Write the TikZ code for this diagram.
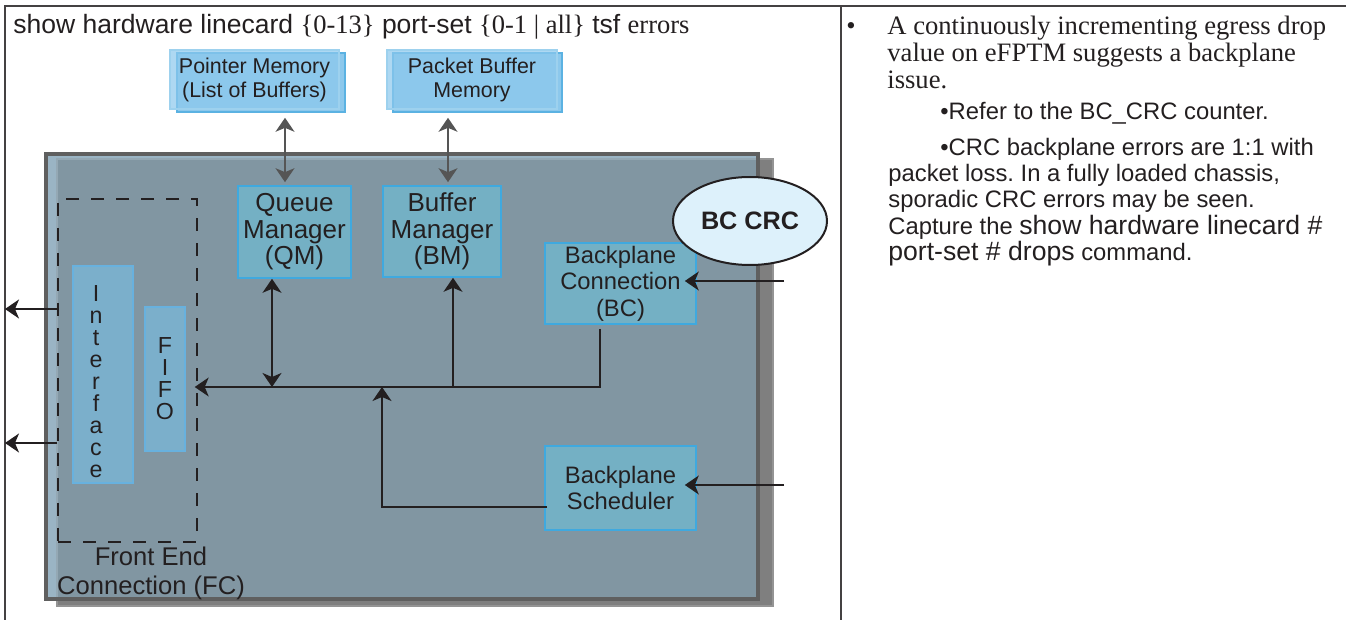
\documentclass[tikz,border=0pt]{standalone}
\usepackage{fontspec}
\setmainfont{Liberation Serif}
\setsansfont{Liberation Sans}
\usetikzlibrary{positioning,calc,shapes.geometric,arrows.meta}

\definecolor{ink}{HTML}{231F20}
\definecolor{garrow}{HTML}{555555}
\definecolor{cardback}{HTML}{9AB4C4}
\definecolor{cardfill}{HTML}{8196A2}
\definecolor{cardline}{HTML}{94A8B4}
\definecolor{cardedge}{HTML}{5F5F5F}
\definecolor{cardshade}{HTML}{7F7F7F}
\definecolor{memfill}{HTML}{8CC8EC}
\definecolor{memedge}{HTML}{5BB2E2}
\definecolor{blkfill}{HTML}{74B0C4}
\definecolor{blkedge}{HTML}{3FA9DF}
\definecolor{iffill}{HTML}{7BAFCB}
\definecolor{ifedge}{HTML}{68B1DE}
\definecolor{crcfill}{HTML}{DDF1FB}

\frenchspacing

\begin{document}
\begin{tikzpicture}[
    x=0.5pt, y=-0.5pt,
    font=\sffamily, text=ink,
    mem/.style={draw=memedge, fill=memfill, line width=0.8pt,
                minimum height=29.5pt, inner sep=0pt, align=center,
                font=\sffamily\fontsize{10.7}{12}\selectfont},
    blk/.style={draw=blkedge, fill=blkfill, line width=0.8pt, inner sep=0pt,
                align=center},
    big/.style={font=\sffamily\fontsize{13}{13.25}\selectfont},
    mid/.style={font=\sffamily\fontsize{11.9}{13.25}\selectfont},
    ifc/.style={draw=ifedge, fill=iffill, line width=0.8pt, inner sep=0pt},
    letters/.style={align=center, inner sep=0pt,
                    font=\sffamily\fontsize{11.6}{11}\selectfont},
    note/.style={inner sep=0pt, align=left},
    arr/.style={draw=ink, line width=0.75pt,
                -{Stealth[length=7pt,width=9.5pt,inset=2pt]}},
    darr/.style={arr, {Stealth[length=7pt,width=9.5pt,inset=2pt]}-{Stealth[length=7pt,width=9.5pt,inset=2pt]}},
    gar/.style={darr, draw=garrow},
  ]
  \useasboundingbox (0,0) rectangle (1346,620);

  % ---------------------------------------------------------------
  % Table frame and command line
  % ---------------------------------------------------------------
  \coordinate (frameL) at (5,6);
  \draw[ink!85, line width=0.8pt] (5,620) -- (frameL) -- (1346,6);
  \draw[ink!85, line width=0.8pt] (841,6) -- (841,620);

  \node[anchor=base west, inner sep=0pt,
        font=\sffamily\fontsize{13.25}{15}\selectfont] (cmd) at (13,33.5)
    {show hardware linecard {\rmfamily\{0-13\}} port-set
     {\rmfamily\{0-1 | all\}} tsf {\rmfamily errors}};

  % ---------------------------------------------------------------
  % Memories above the card
  % ---------------------------------------------------------------
  \node[mem, minimum width=84pt] (PMc) at (261,82.5) {};
  \node[mem, draw=memedge!60, fill opacity=0.7, text opacity=1,
        minimum width=84.5pt] (PM) at (254.5,79.5)
    {Pointer Memory\\(List of Buffers)};
  \node[mem, minimum width=84.5pt] (PBc) at (477.5,82.5) {};
  \node[mem, draw=memedge!60, fill opacity=0.7, text opacity=1,
        minimum width=85pt] (PB) at (472,79.5)
    {Packet Buffer\\Memory};

  % ---------------------------------------------------------------
  % Line card with its shadow
  % ---------------------------------------------------------------
  \filldraw[fill=cardshade, draw=black!42, line width=0.6pt]
    (57,159) rectangle (773,606);
  \fill[cardback] (45.5,154.5) rectangle (758,599);
  \filldraw[fill=cardfill, draw=cardline, line width=0.6pt]
    (57,159) rectangle (758,599);
  \draw[cardedge, line width=2pt] (45.5,154.5) rectangle (758,599);

  % front end connection
  \node[draw=ink, line width=0.7pt, dash pattern=on 6.5pt off 6pt,
        minimum width=69.5pt, minimum height=171.5pt, inner sep=0pt]
    (FC) at (127.5,370.5) {};
  \node[align=center, inner sep=0pt,
        font=\sffamily\fontsize{12.8}{14.5}\selectfont] (FClab) at (151,573)
    {Front End\\Connection (FC)};
  \node[ifc, minimum width=30pt, minimum height=108.5pt] (IF) at (103,374.5) {};
  \node[letters] (IFtxt) at (96,382) {I\\n\\t\\e\\r\\f\\a\\c\\e};
  \node[ifc, letters, minimum width=20pt, minimum height=72pt]
    (FIFO) at (165,379) {F\\I\\F\\O};

  % managers and backplane blocks
  \node[blk, big, minimum width=56.5pt, minimum height=46pt]
    (QM) at (294.5,232) {Queue\\Manager\\(QM)};
  \node[blk, big, minimum width=59pt, minimum height=45.5pt]
    (BM) at (442,231.5) {Buffer\\Manager\\(BM)};
  \node[blk, mid, minimum width=75.5pt, minimum height=40.5pt]
    (BC) at (620.5,283.5) {Backplane\\Connection\\(BC)};
  \node[blk, mid, minimum width=75.5pt, minimum height=42pt]
    (BS) at (620.5,488) {Backplane\\Scheduler};
  \node[ellipse, draw=ink, fill=crcfill, line width=1pt, inner sep=0pt,
        minimum width=77pt, minimum height=44pt,
        font=\sffamily\bfseries\fontsize{12.6}{14}\selectfont]
    (CRC) at (750,221) {BC CRC};

  % ---------------------------------------------------------------
  % Connectors
  % ---------------------------------------------------------------
  \draw[gar, shorten <=2.5pt, shorten >=1.5pt]
    ([xshift=12pt]PMc.south) -- ([xshift=12pt]PMc.south |- QM.north);
  \draw[gar, shorten <=2.5pt, shorten >=1.5pt]
    ([xshift=-14.75pt]PBc.south) -- ([xshift=-14.75pt]PBc.south |- BM.north);

  \coordinate (busJ) at (382,387);
  \draw[arr, shorten <=2pt, shorten >=-1.5pt]
    ([xshift=-10.25pt]BC.south) |- (FC.east |- busJ);
  \draw[darr] ([xshift=-11.25pt]QM.south) -- ([xshift=-11.25pt]QM.south |- busJ);
  \draw[arr] ([xshift=5.5pt]BM.south |- busJ) -- ([xshift=5.5pt]BM.south);
  \draw[arr, shorten <=-1.5pt] ([yshift=-9.5pt]BS.west) -| (busJ);

  \coordinate (bcIn) at (784,281);
  \coordinate (bsIn) at (784,485);
  \draw[arr, shorten >=-6pt] (bcIn) -- (bcIn -| BC.east);
  \draw[arr, shorten >=-6pt] (bsIn) -- (bsIn -| BS.east);

  \draw[arr] ([yshift=30.75pt]FC.west) -- ([yshift=30.75pt]frameL |- FC.west);
  \draw[arr] ([yshift=-36.25pt]FC.west) -- ([yshift=-36.25pt]frameL |- FC.west);

  % ---------------------------------------------------------------
  % Notes column
  % ---------------------------------------------------------------
  \node[anchor=base, inner sep=0pt, font=\rmfamily\fontsize{13.3}{13.25}\selectfont]
    (dot) at (851,34.5) {•};
  \node[note, anchor=north west, font=\rmfamily\fontsize{13.3}{13.4}\selectfont]
    (note1) at (887,16)
    {A continuously incrementing egress drop\\
     value on eFPTM suggests a backplane\\
     issue.};
  \node[note, anchor=base west, font=\sffamily\fontsize{11.9}{13}\selectfont]
    (note2) at (940,120) {•Refer to the BC\_CRC counter.};
  \node[note, anchor=north west, font=\sffamily\fontsize{11.9}{13.2}\selectfont]
    (note3) at (888,137.5)
    {\hspace*{26pt}•CRC backplane errors are 1:1 with\\
     packet loss. In a fully loaded chassis,\\
     sporadic CRC errors may be seen.\\
     Capture the {\fontsize{13.3}{13.2}\selectfont show hardware linecard \#}\\
     {\fontsize{13.3}{13.2}\selectfont port-set \# drops} command.};
\end{tikzpicture}
\end{document}
